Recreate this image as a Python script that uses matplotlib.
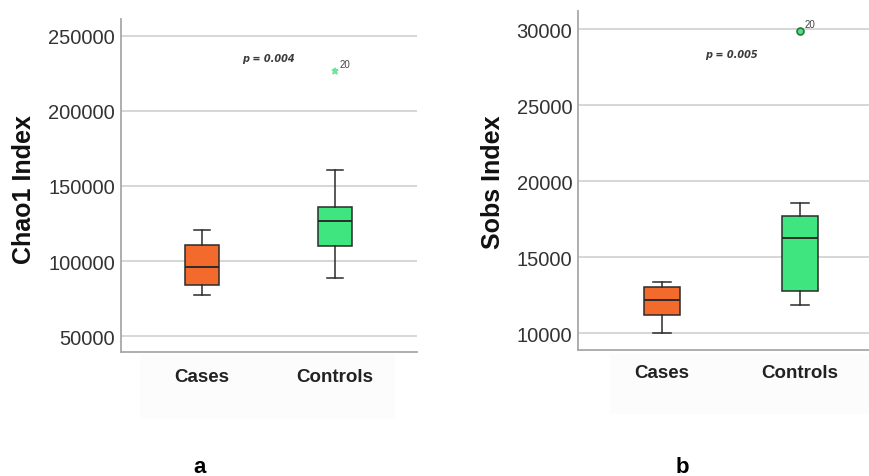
import matplotlib
matplotlib.use("Agg")
import matplotlib.pyplot as plt
from matplotlib.patches import Rectangle

# ---- data ----
groups = ["Cases", "Controls"]

chao1_whislo = [77100, 88700]
chao1_q1 = [84200, 110000]
chao1_med = [96000, 126400]
chao1_q3 = [110400, 136000]
chao1_whishi = [120400, 160900]
chao1_fliers = [[], [226700]]
chao1_ticks = [50000, 100000, 150000, 200000, 250000]
chao1_p = "p = 0.004"

sobs_whislo = [10000, 11860]
sobs_q1 = [11200, 12800]
sobs_med = [12190, 16250]
sobs_q3 = [13030, 17740]
sobs_whishi = [13400, 18600]
sobs_fliers = [[], [29890]]
sobs_ticks = [10000, 15000, 20000, 25000, 30000]
sobs_p = "p = 0.005"

outlier_label = "20"
box_colors = ["#F26A2C", "#3FE57F"]

plt.rcParams['font.family'] = ['Liberation Sans', 'DejaVu Sans']

fig = plt.figure(figsize=(8.7, 4.77), dpi=100)
fig.patch.set_facecolor("white")

# very faint shaded band behind category labels
fig.patches.append(Rectangle((140/870, 1-420/477), 255/870, 65/477,
                             transform=fig.transFigure, facecolor="#FCFCFC",
                             edgecolor="none", zorder=-5))
fig.patches.append(Rectangle((610/870, 1-415/477), 260/870, 60/477,
                             transform=fig.transFigure, facecolor="#FCFCFC",
                             edgecolor="none", zorder=-5))


def make_panel(rect, whislo, q1, med, q3, whishi, fliers, ticks, ylim, xlim,
               ptext, pval_y, marker, mface, medge, msize, label_off):
    ax = fig.add_axes(rect)
    ax.set_facecolor("none")
    stats = []
    for i in range(len(groups)):
        stats.append(dict(whislo=whislo[i], q1=q1[i], med=med[i], q3=q3[i],
                          whishi=whishi[i], fliers=fliers[i], label=groups[i]))
    bp = ax.bxp(stats, positions=[1, 2], widths=0.255, patch_artist=True,
                showfliers=True,
                boxprops=dict(edgecolor="#2b2b2b", linewidth=1.1),
                medianprops=dict(color="#2b2b2b", linewidth=1.4),
                whiskerprops=dict(color="#2b2b2b", linewidth=1.1),
                capprops=dict(color="#2b2b2b", linewidth=1.1),
                capwidths=0.125,
                flierprops=dict(marker=marker, markerfacecolor=mface,
                                markeredgecolor=medge, markersize=msize,
                                markeredgewidth=1.2, linestyle="none"),
                zorder=3)
    for patch, c in zip(bp["boxes"], box_colors):
        patch.set_facecolor(c)
    for i, fl in enumerate(fliers):
        for v in fl:
            ax.annotate(outlier_label, (i + 1, v), xytext=(3, 3),
                        textcoords="offset points", fontsize=7, color="#444444")
    ax.text(1.5, pval_y, ptext, fontsize=7, fontweight="bold", style="italic",
            color="#3a3a3a", ha="center", va="center",
            family=["DejaVu Sans"])
    ax.set_ylim(*ylim)
    ax.set_xlim(*xlim)
    ax.set_yticks(ticks)
    ax.set_yticklabels([str(t) for t in ticks])
    ax.set_xticks([1, 2])
    ax.set_xticklabels(groups)
    ax.yaxis.grid(True, color="#D3D3D3", linewidth=1.3, zorder=0)
    ax.set_axisbelow(True)
    for s in ["top", "right"]:
        ax.spines[s].set_visible(False)
    for s in ["left", "bottom"]:
        ax.spines[s].set_color("#A8A8A8")
        ax.spines[s].set_linewidth(1.3)
    ax.tick_params(axis="y", length=0, pad=4, labelsize=14.5, labelcolor="#333333")
    ax.tick_params(axis="x", length=0, pad=label_off, labelsize=13.5, labelcolor="#222222")
    for lab in ax.get_xticklabels():
        lab.set_fontweight("bold")
    return ax


ax1 = make_panel([120.7/870, 1-353.3/477, 296.3/870, 333.3/477],
                 chao1_whislo, chao1_q1, chao1_med, chao1_q3, chao1_whishi,
                 chao1_fliers, chao1_ticks, (39300, 261100), (0.389, 2.617),
                 chao1_p, 235100, "*", "#6EE39A", "#6EE39A", 5, 11)

ax2 = make_panel([578/870, 1-351/477, 292/870, 339/477],
                 sobs_whislo, sobs_q1, sobs_med, sobs_q3, sobs_whishi,
                 sobs_fliers, sobs_ticks, (8914, 31184), (0.391, 2.507),
                 sobs_p, 28355, "o", "#5BD98A", "#1F7A3F", 5, 10)

fig.text(24/870, 1-190/477, "Chao1 Index", fontsize=18, fontweight="bold",
         color="#111111", rotation=90, ha="center", va="center")
fig.text(493/870, 1-182/477, "Sobs Index", fontsize=18, fontweight="bold",
         color="#111111", rotation=90, ha="center", va="center")

fig.text(200/870, 1-468/477, "a", fontsize=16, fontweight="bold",
         ha="center", va="center")
fig.text(682/870, 1-468/477, "b", fontsize=16, fontweight="bold",
         ha="center", va="center")

fig.savefig("out.png", dpi=100, facecolor="white")
